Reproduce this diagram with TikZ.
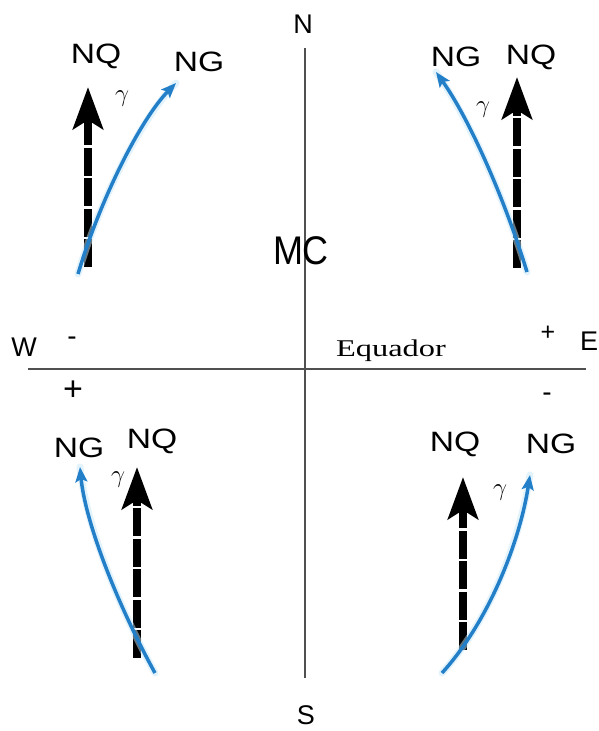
\documentclass[tikz,border=0pt]{standalone}
\usepackage{fontspec}
\setmainfont{Liberation Sans}
\newfontfamily\serifeq{Liberation Serif}
\usetikzlibrary{arrows.meta}
\definecolor{ngblue}{RGB}{35,128,200}
\definecolor{ngglow}{RGB}{200,232,250}
\definecolor{axisgray}{RGB}{80,80,80}
\tikzset{
  lbl/.style={inner sep=0pt, font=\fontsize{28}{28}\selectfont, xscale=1.2},
  cardinal/.style={inner sep=0pt, font=\fontsize{27}{27}\selectfont},
  sgn/.style={inner sep=0pt, font=\fontsize{28}{28}\selectfont},
  gam/.style={inner sep=0pt, font=\fontsize{25}{25}\selectfont},
  axis/.style={draw=axisgray, line width=1.6pt},
  nqarrow/.style={line width=8pt, black, dash pattern=on 28pt off 2.5pt,
     -{Stealth[length=42pt,width=30pt,inset=9pt]}},
  ngglowline/.style={line width=7pt, ngglow, opacity=0.5, line cap=round},
  ngarrow/.style={line width=3.5pt, ngblue, -{Stealth[length=15pt,width=12pt,inset=3pt]}},
}
\begin{document}
\begin{tikzpicture}[x=1pt,y=-1pt]
\useasboundingbox (0,0) rectangle (598,731);
\fill[white] (0,0) rectangle (598,731);

% axes
\coordinate (vtop) at (305,48);
\coordinate (vbot) at (305,678);
\coordinate (hleft) at (28,369);
\coordinate (hright) at (586,369);
\draw[axis] (vtop) -- (vbot);
\draw[axis] (hleft) -- (hright);

% cardinal labels
\node[cardinal] (N) at (303,24) {N};
\node[cardinal] (S) at (306,715) {S};
\node[cardinal] (W) at (24,347) {W};
\node[cardinal] (E) at (589,341) {E};
\node[inner sep=0pt, font=\fontsize{40}{40}\selectfont, xscale=0.9] (MC) at (301,251) {MC};
\node[inner sep=0pt, font=\serifeq\fontsize{24}{24}\selectfont, xscale=1.35] (eq) at (391,351) {Equador};

% signs
\node[sgn] (mW) at (72,341) {-};
\node[sgn, font=\fontsize{34}{34}\selectfont] (pW) at (73,391) {+};
\node[sgn, font=\fontsize{25}{25}\selectfont] (pE) at (548,333) {+};
\node[sgn] (mE) at (547,397) {-};

% ---- top left quadrant
\node[lbl] (nq1) at (96,56) {NQ};
\node[lbl] (ng1) at (199,62) {NG};
\node[gam] (g1) at (122,99) {$\gamma$};
\coordinate (q1s) at (88,267);
\coordinate (q1e) at (88,87);
\draw[nqarrow] (q1s) -- (q1e);
\coordinate (b1s) at (78,274);
\coordinate (b1e) at (176,83);
\draw[ngglowline] (b1s) .. controls (100,200) and (140,120) .. (b1e);
\draw[ngarrow] (b1s) .. controls (100,200) and (140,120) .. (b1e);

% ---- top right quadrant
\node[lbl] (ng2) at (456,57) {NG};
\node[lbl] (nq2) at (531,57) {NQ};
\node[gam] (g2) at (483,110) {$\gamma$};
\coordinate (q2s) at (517,268);
\coordinate (q2e) at (517,77);
\draw[nqarrow] (q2s) -- (q2e);
\coordinate (b2s) at (527,272);
\coordinate (b2e) at (436,72);
\draw[ngglowline] (b2s) .. controls (505,200) and (470,120) .. (b2e);
\draw[ngarrow] (b2s) .. controls (505,200) and (470,120) .. (b2e);

% ---- bottom left quadrant
\node[lbl] (ng3) at (79,448) {NG};
\node[lbl] (nq3) at (152,441) {NQ};
\node[gam] (g3) at (118,480) {$\gamma$};
\coordinate (q3s) at (137,658);
\coordinate (q3e) at (137,467);
\draw[nqarrow] (q3s) -- (q3e);
\coordinate (b3s) at (155,673);
\coordinate (b3e) at (80,467);
\draw[ngglowline] (b3s) .. controls (115,600) and (85,520) .. (b3e);
\draw[ngarrow] (b3s) .. controls (115,600) and (85,520) .. (b3e);

% ---- bottom right quadrant
\node[lbl] (nq4) at (455,444) {NQ};
\node[lbl] (ng4) at (551,444) {NG};
\node[gam] (g4) at (500,493) {$\gamma$};
\coordinate (q4s) at (463,650);
\coordinate (q4e) at (463,477);
\draw[nqarrow] (q4s) -- (q4e);
\coordinate (b4s) at (442,673);
\coordinate (b4e) at (530,475);
\draw[ngglowline] (b4s) .. controls (490,620) and (520,540) .. (b4e);
\draw[ngarrow] (b4s) .. controls (490,620) and (520,540) .. (b4e);
\end{tikzpicture}
\end{document}
